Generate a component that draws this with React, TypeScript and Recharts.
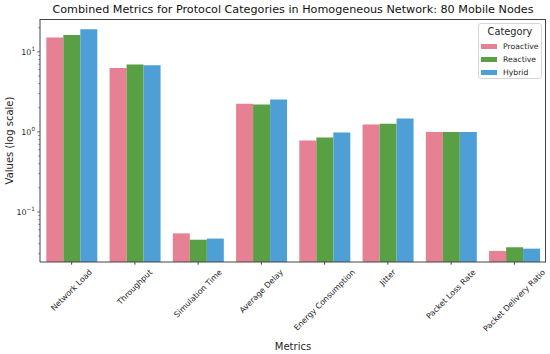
import { BarChart, Bar, XAxis, YAxis, Legend } from 'recharts'

const metrics = [
  'Network Load',
  'Throughput',
  'Simulation Time',
  'Average Delay',
  'Energy Consumption',
  'Jitter',
  'Packet Loss Rate',
  'Packet Delivery Ratio',
]
const proactive = [15.1, 6.3, 0.054, 2.24, 0.78, 1.24, 1.0, 0.0326]
const reactive = [16.2, 6.95, 0.045, 2.2, 0.85, 1.26, 1.0, 0.0362]
const hybrid = [19.1, 6.8, 0.0465, 2.54, 0.98, 1.47, 1.0, 0.0348]

const seriesNames = ['Proactive', 'Reactive', 'Hybrid']
const seriesColors = ['#e68093', '#58a043', '#4f9fd7']

const majorTicks = [0.1, 1, 10]
const majorExponents = ['\u22121', '0', '1']
const minorTicks = [
  0.03, 0.04, 0.05, 0.06, 0.07, 0.08, 0.09,
  0.2, 0.3, 0.4, 0.5, 0.6, 0.7, 0.8, 0.9,
  2, 3, 4, 5, 6, 7, 8, 9, 20,
]

const data = metrics.map((m, i) => ({
  metric: m,
  Proactive: proactive[i],
  Reactive: reactive[i],
  Hybrid: hybrid[i],
}))

const FONT = '"DejaVu Sans", sans-serif'
const INK = '#262626'

let canvasCtx: CanvasRenderingContext2D | null = null
function measure(text: string, size: number) {
  if (!canvasCtx) canvasCtx = document.createElement('canvas').getContext('2d')
  if (!canvasCtx) return text.length * size * 0.58
  canvasCtx.font = `${size}px "DejaVu Sans"`
  return canvasCtx.measureText(text).width
}

// matplotlib style: rotated 45deg, bbox centred on the tick
function XTick({ x, y, payload }: any) {
  const s = 7.9
  const w = measure(payload.value, s)
  const h = s * 1.17
  const cy = y + (0.7071 * (w + h)) / 2
  return (
    <text
      x={x}
      y={cy}
      transform={`rotate(-45 ${x} ${cy})`}
      textAnchor="middle"
      dominantBaseline="central"
      fontSize={s}
      fontFamily={FONT}
      fill={INK}
    >
      {payload.value}
    </text>
  )
}

function YTick({ x, y, payload }: any) {
  const idx = majorTicks.indexOf(payload.value)
  if (idx < 0) {
    return <line x1={x - 1.6} x2={x} y1={y} y2={y} stroke="#444" strokeWidth={0.7} />
  }
  return (
    <g>
      <line x1={x - 2.8} x2={x} y1={y} y2={y} stroke="#444" strokeWidth={0.8} />
      <text x={x - 5} y={y + 3} textAnchor="end" fontFamily={FONT} fill={INK}>
        <tspan fontSize={7.9}>10</tspan>
        <tspan fontSize={5.7} dy={-3.8}>{majorExponents[idx]}</tspan>
      </text>
    </g>
  )
}

function YLabel({ viewBox }: any) {
  const cx = viewBox.x + 9
  const cy = viewBox.y + viewBox.height / 2
  return (
    <text
      x={cx}
      y={cy}
      transform={`rotate(-90 ${cx} ${cy})`}
      textAnchor="middle"
      dominantBaseline="central"
      fontSize={10}
      fontFamily={FONT}
      fill={INK}
    >
      Values (log scale)
    </text>
  )
}

function LegendBox() {
  return (
    <div
      style={{
        position: 'relative',
        width: 64,
        height: 56,
        boxSizing: 'border-box',
        border: '1px solid #d6d6d6',
        borderRadius: 3,
        background: 'rgba(255,255,255,0.85)',
        fontFamily: FONT,
        color: INK,
      }}
    >
      <div style={{ position: 'absolute', top: 1, left: 0, width: '100%', textAlign: 'center', fontSize: 9.8, lineHeight: '14px' }}>
        Category
      </div>
      {seriesNames.map((name, i) => (
        <div key={name} style={{ position: 'absolute', top: 16 + i * 13, left: 2, height: 13, display: 'flex', alignItems: 'center' }}>
          <span style={{ display: 'inline-block', width: 16, height: 5.5, background: seriesColors[i] }} />
          <span style={{ marginLeft: 6, fontSize: 7.7, lineHeight: '13px' }}>{name}</span>
        </div>
      ))}
    </div>
  )
}

export default function App() {
  return (
    <div style={{ position: 'absolute', left: 0, top: 0, width: 550, height: 354, background: '#fff' }}>
      <div
        style={{
          position: 'absolute',
          left: 40,
          top: 2,
          width: 506,
          textAlign: 'center',
          fontFamily: FONT,
          fontSize: 11.2,
          lineHeight: '16px',
          color: '#111',
          whiteSpace: 'nowrap',
        }}
      >
        Combined Metrics for Protocol Categories in Homogeneous Network: 80 Mobile Nodes
      </div>
      <BarChart
        width={550}
        height={354}
        data={data}
        margin={{ top: 19, right: 4, left: 0, bottom: 0 }}
        barCategoryGap="10%"
        barGap={0}
      >
        <XAxis
          dataKey="metric"
          height={92}
          interval={0}
          tick={<XTick />}
          tickSize={2.7}
          tickMargin={3}
          stroke="#444"
          label={{ value: 'Metrics', position: 'insideBottom', offset: 4, fontSize: 10, fontFamily: FONT, fill: INK }}
        />
        <YAxis
          scale="log"
          type="number"
          domain={[0.0237, 25.7]}
          allowDataOverflow
          ticks={[...minorTicks, ...majorTicks].sort((a, b) => a - b)}
          interval={0}
          width={40}
          tickSize={0}
          tickMargin={0}
          tickLine={false}
          tick={<YTick />}
          stroke="#444"
          label={{ value: 'Values (log scale)', content: <YLabel /> }}
        />
        <Legend
          layout="vertical"
          align="center"
          verticalAlign="middle"
          wrapperStyle={{ left: 478, top: 23, width: 64, height: 56 }}
          content={() => <LegendBox />}
        />
        {seriesNames.map((name, i) => (
          <Bar key={name} dataKey={name} fill={seriesColors[i]} isAnimationActive={false} />
        ))}
      </BarChart>
      {/* top and right spines of the axes frame */}
      <div
        style={{
          position: 'absolute',
          left: 40,
          top: 19,
          width: 506,
          height: 243,
          boxSizing: 'border-box',
          borderTop: '1px solid #444',
          borderRight: '1px solid #444',
          pointerEvents: 'none',
        }}
      />
    </div>
  )
}
